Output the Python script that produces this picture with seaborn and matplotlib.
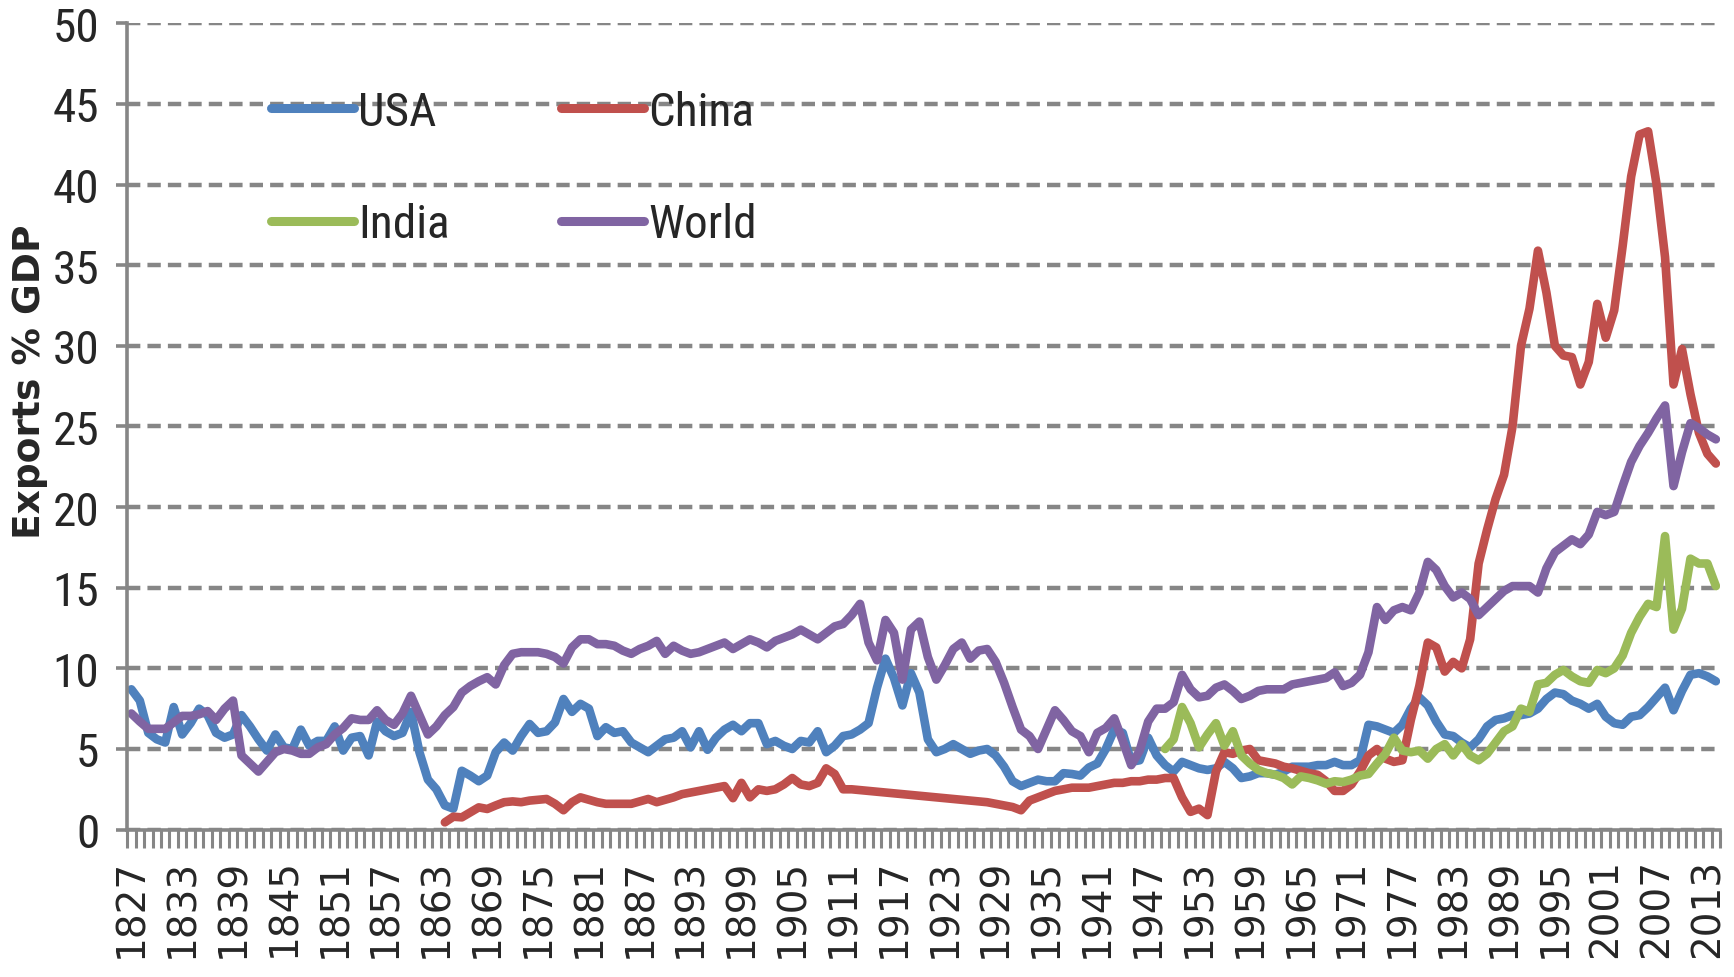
import os
import numpy as np
import pandas as pd
import seaborn as sns
import matplotlib
matplotlib.use("Agg")
import matplotlib.pyplot as plt
from matplotlib import font_manager as fm
from matplotlib.lines import Line2D
from matplotlib.ticker import FixedLocator, MultipleLocator

# Exports as % of GDP
usa_years = list(range(1827, 2015))
usa = [8.7, 8.0, 6.0,
       5.6, 5.4, 7.6, 5.9, 6.6, 7.5, 7.1, 6.0, 5.7, 5.9,
       7.1, 6.4, 5.6, 4.9, 5.9, 5.1, 5.0, 6.2, 5.2, 5.5,
       5.5, 6.4, 4.9, 5.7, 5.8, 4.6, 6.7, 6.1, 5.8, 6.0,
       7.3, 4.8, 3.1, 2.5, 1.5, 1.3, 3.65, 3.35, 3.0, 3.35,
       4.8, 5.4, 4.9, 5.8, 6.55, 6.0, 6.1, 6.65, 8.1, 7.3,
       7.8, 7.5, 5.8, 6.35, 6.0, 6.1, 5.4, 5.1, 4.8, 5.2,
       5.6, 5.7, 6.1, 5.1, 6.1, 4.95, 5.7, 6.2, 6.5, 6.1,
       6.6, 6.6, 5.3, 5.5, 5.2, 5.0, 5.5, 5.4, 6.1, 4.8,
       5.2, 5.8, 5.9, 6.2, 6.6, 8.8, 10.6, 9.4, 7.7, 9.7,
       8.5, 5.6, 4.8, 5.0, 5.3, 5.0, 4.7, 4.9, 5.0, 4.6,
       3.9, 3.0, 2.7, 2.9, 3.1, 3.0, 3.0, 3.5, 3.45, 3.35,
       3.85, 4.1, 5.0, 6.2, 6.0, 4.2, 4.3, 5.7, 4.6, 4.0,
       3.6, 4.2, 4.0, 3.8, 3.7, 3.8, 4.2, 3.8, 3.2, 3.3,
       3.5, 3.5, 3.4, 3.6, 3.9, 3.9, 3.9, 4.0, 4.0, 4.2,
       4.0, 4.0, 4.3, 6.5, 6.4, 6.2, 6.0, 6.5, 7.5, 8.2,
       7.7, 6.7, 5.9, 5.8, 5.4, 5.1, 5.6, 6.4, 6.8, 6.9,
       7.1, 7.1, 7.2, 7.5, 8.1, 8.5, 8.4, 8.0, 7.8, 7.5,
       7.8, 7.0, 6.6, 6.5, 7.0, 7.1, 7.6, 8.2, 8.8, 7.4,
       8.6, 9.6, 9.7, 9.5, 9.2]

china_years = list(range(1864, 2015))
china = [0.45, 0.8, 0.76, 1.07, 1.38, 1.28,
         1.5, 1.7, 1.75, 1.7, 1.8, 1.85, 1.9, 1.6, 1.2, 1.7,
         2.0, 1.85, 1.7, 1.6, 1.6, 1.6, 1.6, 1.75, 1.9, 1.7,
         1.85, 2.0, 2.2, 2.3, 2.4, 2.5, 2.6, 2.7, 1.95, 2.9,
         2.0, 2.5, 2.4, 2.5, 2.8, 3.2, 2.8, 2.7, 2.9, 3.8,
         3.45, 2.5, 2.5, 2.45, 2.4, 2.35, 2.3, 2.25, 2.2, 2.15,
         2.1, 2.05, 2.0, 1.95, 1.9, 1.85, 1.8, 1.75, 1.7, 1.6,
         1.5, 1.4, 1.2, 1.8, 2.0, 2.2, 2.4, 2.5, 2.6, 2.6,
         2.6, 2.7, 2.8, 2.9, 2.9, 3.0, 3.0, 3.1, 3.1, 3.2,
         3.2, 2.0, 1.1, 1.3, 0.9, 3.6, 4.8, 4.7, 4.9, 5.0,
         4.3, 4.2, 4.1, 3.9, 3.8, 3.65, 3.5, 3.4, 3.0, 2.4,
         2.4, 2.8, 3.6, 4.6, 5.0, 4.4, 4.2, 4.3, 6.8, 8.9,
         11.6, 11.3, 9.8, 10.4, 10.0, 11.8, 16.5, 18.6, 20.5, 22.0,
         25.0, 30.0, 32.3, 35.9, 33.3, 30.0, 29.4, 29.3, 27.6, 29.0,
         32.6, 30.5, 32.2, 36.2, 40.5, 43.1, 43.3, 40.0, 35.5, 27.6,
         29.8, 27.0, 24.6, 23.3, 22.7]

india_years = list(range(1949, 2015))
india = [5.0,
         5.6, 7.6, 6.6, 5.1, 5.9, 6.6, 5.2, 6.1, 4.6, 4.1,
         3.7, 3.5, 3.4, 3.2, 2.8, 3.3, 3.2, 3.05, 2.85, 3.0,
         2.95, 3.1, 3.35, 3.45, 4.1, 4.7, 5.7, 4.9, 4.8, 4.9,
         4.4, 5.0, 5.3, 4.6, 5.3, 4.6, 4.3, 4.7, 5.4, 6.1,
         6.4, 7.5, 7.3, 9.0, 9.1, 9.6, 9.9, 9.5, 9.2, 9.1,
         9.9, 9.7, 10.0, 10.8, 12.2, 13.2, 14.0, 13.8, 18.2, 12.4,
         13.7, 16.8, 16.5, 16.5, 15.1]

world_years = list(range(1827, 2015))
world = [7.2, 6.7, 6.25,
         6.25, 6.25, 6.65, 7.05, 7.05, 7.15, 7.35, 6.8, 7.5, 8.0,
         4.6, 4.1, 3.6, 4.2, 4.8, 5.0, 4.9, 4.7, 4.7, 5.1,
         5.3, 5.9, 6.3, 6.9, 6.8, 6.8, 7.4, 6.8, 6.5, 7.2,
         8.3, 7.1, 5.9, 6.4, 7.1, 7.6, 8.5, 8.9, 9.2, 9.45,
         9.0, 10.2, 10.9, 11.0, 11.0, 11.0, 10.9, 10.7, 10.3, 11.3,
         11.8, 11.8, 11.5, 11.5, 11.4, 11.1, 10.9, 11.2, 11.4, 11.7,
         10.9, 11.4, 11.1, 10.9, 11.0, 11.2, 11.4, 11.6, 11.2, 11.5,
         11.8, 11.6, 11.3, 11.7, 11.9, 12.1, 12.4, 12.1, 11.8, 12.2,
         12.6, 12.75, 13.3, 14.0, 11.6, 10.5, 13.0, 12.2, 9.3, 12.4,
         12.9, 10.7, 9.3, 10.2, 11.2, 11.6, 10.6, 11.1, 11.2, 10.4,
         9.1, 7.6, 6.2, 5.8, 5.0, 6.2, 7.4, 6.8, 6.1, 5.8,
         4.8, 6.0, 6.3, 6.9, 5.5, 4.0, 4.9, 6.7, 7.5, 7.5,
         7.9, 9.6, 8.7, 8.2, 8.3, 8.8, 9.0, 8.6, 8.1, 8.3,
         8.6, 8.7, 8.7, 8.7, 9.0, 9.1, 9.2, 9.3, 9.4, 9.75,
         8.9, 9.1, 9.6, 11.0, 13.8, 13.0, 13.6, 13.8, 13.6, 14.7,
         16.6, 16.1, 15.1, 14.4, 14.7, 14.3, 13.3, 13.8, 14.3, 14.8,
         15.1, 15.1, 15.1, 14.7, 16.2, 17.2, 17.6, 18.0, 17.7, 18.3,
         19.7, 19.5, 19.7, 21.3, 22.8, 23.8, 24.6, 25.5, 26.3, 21.3,
         23.4, 25.2, 24.9, 24.5, 24.2]

tick_years = list(range(1827, 2014, 6))

df = pd.concat([
    pd.DataFrame({"year": usa_years, "value": usa, "series": "USA"}),
    pd.DataFrame({"year": china_years, "value": china, "series": "China"}),
    pd.DataFrame({"year": india_years, "value": india, "series": "India"}),
    pd.DataFrame({"year": world_years, "value": world, "series": "World"}),
])

palette = {"USA": "#4F81BD", "China": "#C0504D", "India": "#9BBB59", "World": "#8064A2"}

sns.set_theme(style="white")
grey = "#868686"


# look for a narrow/condensed regular face (the original uses Calibri)
def find_narrow():
    prefs = ["liberationsansnarrow-regular", "robotocondensed-regular",
             "opensanscondensed", "dejavusanscondensed.ttf", "notosans-condensed",
             "notosanscondensed-regular"]
    files = [f.fname for f in fm.fontManager.ttflist]
    for p in prefs:
        for fn in files:
            if p in os.path.basename(fn).lower().replace("_", "").replace(" ", ""):
                return fn
    for fn in files:
        b = os.path.basename(fn).lower()
        if ("narrow" in b or "condensed" in b) and not any(
                k in b for k in ["bold", "italic", "oblique", "light", "thin", "black", "medium", "semi"]):
            return fn
    return None


nf = find_narrow()


def narrow_prop(size):
    if nf:
        return fm.FontProperties(fname=nf, size=size)
    return fm.FontProperties(family="DejaVu Sans", stretch="condensed", size=size * 0.85)


fig = plt.figure(figsize=(17.34, 9.78), dpi=100)
ax = fig.add_axes([0.0733, 0.1507, 0.9187, 0.8245])

sns.lineplot(data=df, x="year", y="value", hue="series", palette=palette,
             hue_order=["USA", "China", "India", "World"], linewidth=6.2,
             ax=ax, legend=False, estimator=None, sort=True)

ax.set_xlim(1826.5, 2014.5)
ax.set_ylim(0, 50)

# dashed horizontal gridlines
ax.yaxis.set_major_locator(MultipleLocator(5))
ax.grid(axis="y", color=grey, linestyle=(0, (3.0, 1.6)), linewidth=3.2)
ax.grid(axis="x", visible=False)
ax.set_axisbelow(True)

for s in ["top", "right"]:
    ax.spines[s].set_visible(False)
for s in ["left", "bottom"]:
    ax.spines[s].set_color(grey)
    ax.spines[s].set_linewidth(2.6)

ax.set_yticks(range(0, 51, 5))
ax.set_yticklabels([str(v) for v in range(0, 51, 5)])
for lab in ax.get_yticklabels():
    lab.set_fontproperties(narrow_prop(34))
ax.tick_params(axis="y", which="major", length=8, width=2.6, color=grey,
               pad=12, left=True)

ax.xaxis.set_major_locator(FixedLocator(tick_years))
ax.xaxis.set_minor_locator(FixedLocator(np.arange(1826.5, 2015, 1.0)))
ax.set_xticklabels([str(y) for y in tick_years], rotation=90, fontsize=28,
                   family="DejaVu Sans")
ax.tick_params(axis="x", which="major", length=0, pad=20, bottom=True)
ax.tick_params(axis="x", which="minor", length=13, width=2.2, color=grey, bottom=True)

ax.set_xlabel("")
ax.set_ylabel("")
fig.text(0.0175, 0.61, "Exports % GDP", rotation=90, fontsize=27,
         fontweight="bold", ha="center", va="center", family="DejaVu Sans")

# legend: two columns, filled row by row like the original
order = ["USA", "India", "China", "World"]
handles = [Line2D([], [], color=palette[k], linewidth=6.5) for k in order]
leg = ax.legend(handles, order, ncol=2,
                loc="upper left", bbox_to_anchor=(271 / 1734, 1 - 91 / 978),
                bbox_transform=fig.transFigure, frameon=False,
                prop=narrow_prop(34), handlelength=1.75,
                handletextpad=0.1, columnspacing=2.35, labelspacing=1.45,
                borderpad=0, borderaxespad=0)

fig.savefig("out.png", dpi=100)
